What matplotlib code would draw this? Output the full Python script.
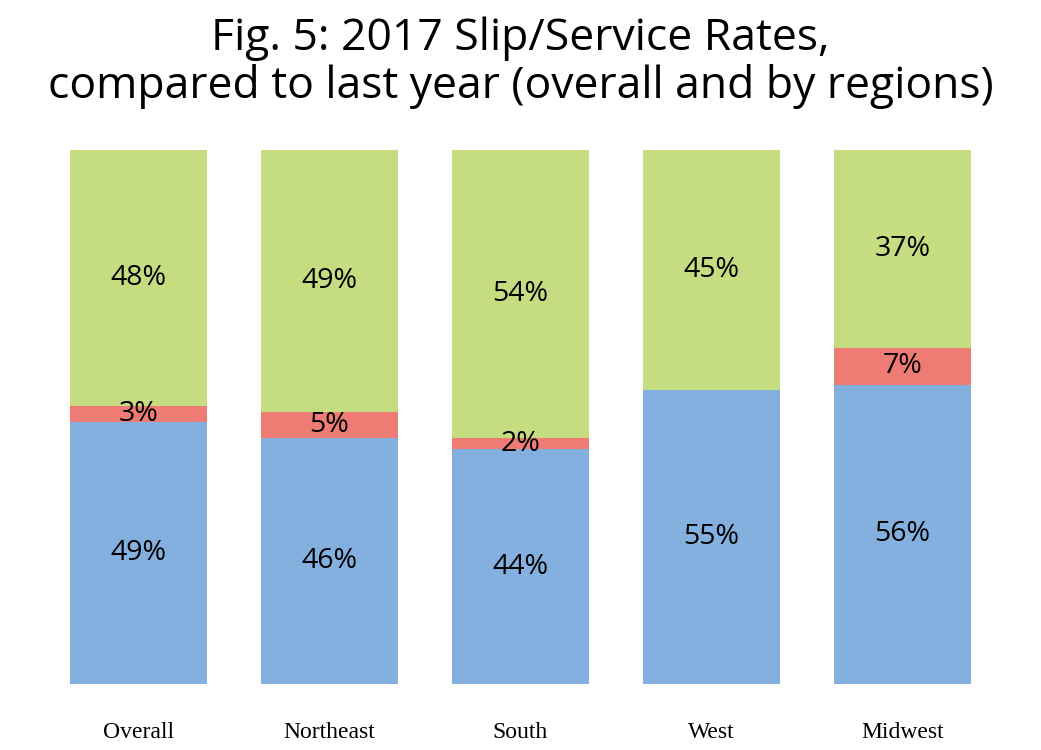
import matplotlib
matplotlib.use("Agg")
import matplotlib.pyplot as plt
import numpy as np

# data
regions = ["Overall", "Northeast", "South", "West", "Midwest"]
blue_vals = [49, 46, 44, 55, 56]
red_vals = [3, 5, 2, 0, 7]
green_vals = [48, 49, 54, 45, 37]

title_lines = ["Fig. 5: 2017 Slip/Service Rates,",
               "compared to last year (overall and by regions)"]

c_blue = "#83b0de"
c_red = "#ee7b74"
c_green = "#c5dc80"

fig = plt.figure(figsize=(10.41, 7.5), dpi=100)
ax = fig.add_axes([0.0413, 0.088, 0.9174, 0.712])

x = np.arange(len(regions))
w = 0.717
b = np.array(blue_vals)
r = np.array(red_vals)
g = np.array(green_vals)

ax.bar(x, b, w, color=c_blue)
ax.bar(x, r, w, bottom=b, color=c_red)
ax.bar(x, g, w, bottom=b + r, color=c_green)

lab_font = dict(family="Open Sans", fontsize=20.5, color="black", ha="center", va="center")
for i in range(len(regions)):
    ax.text(x[i], b[i] / 2, str(b[i]) + "%", **lab_font)
    if r[i] > 0:
        ax.text(x[i], b[i] + r[i] / 2, str(r[i]) + "%", **lab_font)
    ax.text(x[i], b[i] + r[i] + g[i] / 2, str(g[i]) + "%", **lab_font)

ax.set_xlim(-0.5, 4.5)
ax.set_ylim(0, 100)
ax.set_xticks(x)
ax.set_xticklabels(regions, family="Liberation Serif", fontsize=17)
ax.tick_params(axis="x", length=0, pad=27)
ax.set_yticks([])
for s in ax.spines.values():
    s.set_visible(False)

# title, two lines placed on baselines
fig.text(0.5, 1 - 50 / 750, title_lines[0], ha="center", va="baseline",
         family="Open Sans", fontsize=32)
fig.text(0.5, 1 - 98 / 750, title_lines[1], ha="center", va="baseline",
         family="Open Sans", fontsize=32)

fig.savefig("out.png", dpi=100)
